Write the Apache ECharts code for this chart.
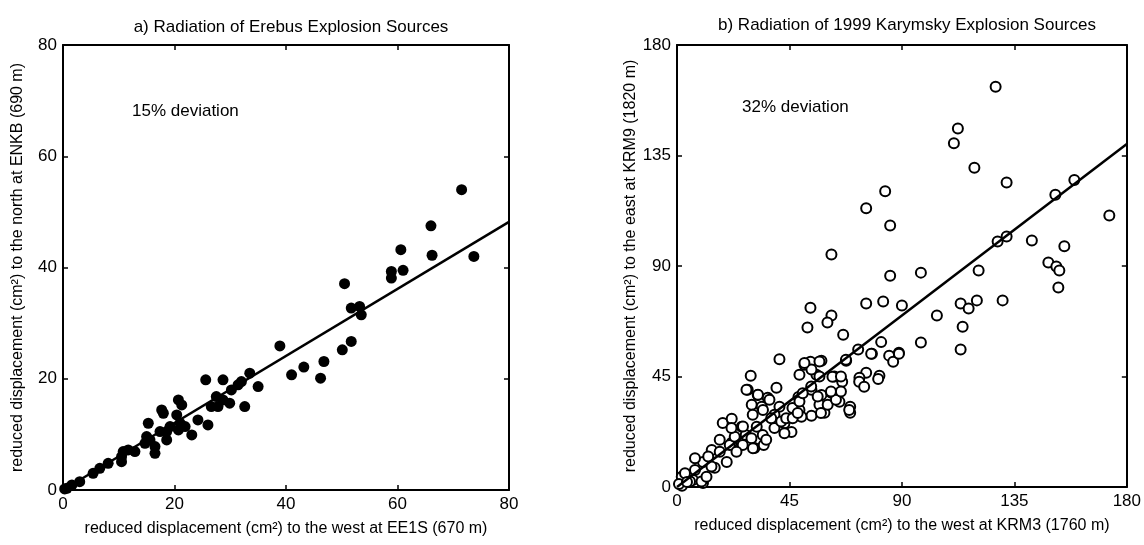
<!DOCTYPE html>
<html>
<head>
<meta charset="utf-8">
<script src="https://cdn.jsdelivr.net/npm/echarts@6/dist/echarts.min.js"></script>
<style>
  html, body { margin: 0; padding: 0; background: #fff; }
  #chart { width: 1144px; height: 545px; }
</style>
</head>
<body>
<div id="chart"></div>
<script>
// a) Erebus: reduced displacement west (EE1S) vs north (ENKB), cm^2
var erebusX = [0.3, 0.7, 1.6, 3, 5.4, 6.6, 8.1, 10.5, 10.8, 11.7, 12.9, 10.5, 15, 14.7, 16.5, 16.5, 15.6, 15.3,
    17.7, 18, 17.4, 18.6, 19.2, 18.6, 20.7, 21.3, 20.4, 21, 20.7, 21.9, 23.1, 24.2, 26, 25.6, 26.6, 27.5,
    28.7, 27.8, 29.9, 28.7, 30.2, 31.4, 32, 32.6, 33.5, 35, 38.9, 41, 43.2, 46.8, 46.2, 50.1, 51.7, 50.5,
    51.7, 53.2, 53.5, 58.9, 61, 58.9, 60.6, 66.2, 66, 71.5, 73.7];
var erebusY = [0.2, 0.3, 0.9, 1.5, 3, 3.9, 4.8, 6, 6.9, 7.2, 6.9, 5.1, 9.6, 8.4, 7.8, 6.6, 9, 12,
    14.4, 13.8, 10.5, 10.5, 11.4, 9, 16.2, 15.3, 13.5, 12, 10.8, 11.4, 9.9, 12.6, 11.7, 19.8, 15, 16.8,
    16.2, 15, 15.6, 19.8, 18, 18.9, 19.5, 15, 21, 18.6, 25.9, 20.7, 22.1, 23.1, 20.1, 25.2, 26.7, 37.1,
    32.7, 33, 31.5, 39.3, 39.5, 38.1, 43.2, 42.2, 47.5, 54, 42];
var erebusFitX = [0, 80];
var erebusFitY = [0, 48.2];

// b) 1999 Karymsky: reduced displacement west (KRM3) vs east (KRM9), cm^2
var karymskyX = [127.5, 112.4, 110.8, 119, 131.9, 151.4, 159, 173, 142, 155, 148.6, 151.8, 153, 152.6, 97.6, 120.7,
    128.3, 131.9, 90, 104, 113.5, 116.7, 120, 130.3, 114.3, 113.5, 97.6, 88.8, 83.3, 75.7, 85.3, 61.8, 85.3,
    53.4, 61.8, 60.2, 52.2, 66.5, 75.7, 82.5, 81.7, 72.5, 78, 84.9, 86.5, 67.7, 75.7, 81, 73,
    41, 53.4, 51, 57.8, 49, 55.8, 63, 29.5, 28.3, 39.8, 32.3, 36.3, 29.9, 33.9, 30.3, 25.9, 18.3, 21.9,
    27.5, 31.9, 34.3, 31, 34.7, 26.3, 21.9, 19.9, 13.9, 10.4, 15.1, 7.2, 10.4, 2.4, 6.4, 2,
    41, 39, 41.8, 43, 45.8, 49, 53.8, 62.2, 66.1, 48.6, 53.8, 57.8, 61.8, 65, 57, 59, 53.8, 49.8, 46.2,
    69.3, 69.3, 72.9, 74.9, 80.5, 77.7, 88.8, 1.9, 9.8, 5.2, 13.8, 17.1, 21.1, 23.1, 29.8, 30.4, 26.4,
    39, 41.7, 43, 37.7, 34.4, 37, 32.4, 27.8, 43.7, 46.3, 49, 48.3, 50.3, 57.6, 60.3, 63.6, 65.6, 61.6,
    56.3, 53.7, 57, 51, 57, 65.6, 67.6, 68.9, 35.7, 12.5, 7.2, 3.2, 11.8, 17.1, 21.8, 23.8, 0.8, 4];
var karymskyY = [163, 146, 140, 130, 124, 119, 125, 110.6, 100.4, 98, 91.4, 89.8, 88.2, 81.2, 87.3, 88.2,
    100, 102, 73.9, 69.8, 74.7, 72.7, 76, 76, 65.3, 56, 58.8, 54.7, 120.4, 113.5, 106.5, 94.7, 86,
    73, 69.8, 67, 65, 62, 74.7, 75.5, 59, 56, 54.3, 53.5, 51, 51.4, 46.5, 45.3, 44.5,
    52, 51, 49.8, 51.4, 45.7, 45.7, 45, 45.3, 39.6, 40.4, 37.5, 36.3, 33.5, 32.7, 29.4, 24.5, 26.1, 27.8,
    21.2, 24.5, 21.2, 15.9, 17.1, 17.1, 18, 10.2, 15.1, 10.2, 7.8, 6.9, 1.6, 4.1, 2.9, 0.5,
    32.7, 29.4, 24.5, 26, 22.4, 31.4, 47.8, 44.9, 42.9, 36.7, 39.6, 37.5, 38.4, 34.7, 33.5, 30.2, 29, 28.6, 32.2,
    32.7, 30.2, 42.9, 40.8, 44, 54.3, 54.3, 4.2, 2.2, 2.2, 8.3, 14.4, 17.1, 20.5, 19.9, 15.8, 24.6,
    24, 26.7, 21.9, 28, 31.4, 35.5, 37.6, 39.6, 28, 28, 34.8, 30.1, 38.2, 30.1, 33.5, 35.5, 38.9, 38.9,
    36.9, 40.9, 45, 50.5, 51.1, 45, 51.8, 31.4, 19.2, 12.4, 11.7, 5.6, 4.2, 19.2, 24, 14.4, 1.2, 2];
var karymskyFitX = [0, 180];
var karymskyFitY = [0, 139.7];

var erebusTicks = { min: 0, max: 80, interval: 20 };
var karymskyTicks = { min: 0, max: 180, interval: 45 };

function pairs(xs, ys) {
    return xs.map(function (x, i) { return [x, ys[i]]; });
}

var font = "'Liberation Sans', Arial, Helvetica, sans-serif";

function mainX(grid, t, name) {
    return {
        type: "value", gridIndex: grid, min: t.min, max: t.max, interval: t.interval,
        name: name, nameLocation: "middle", nameGap: 31,
        nameTextStyle: { fontFamily: font, fontSize: 16, color: "#000" },
        axisLine: { onZero: false, lineStyle: { color: "#000", width: 2 } },
        axisTick: { inside: true, length: 5, lineStyle: { color: "#000", width: 1.5 } },
        axisLabel: { fontFamily: font, fontSize: 17, color: "#000", margin: 6 },
        splitLine: { show: false }
    };
}
function mainY(grid, t, name) {
    return {
        type: "value", gridIndex: grid, min: t.min, max: t.max, interval: t.interval,
        name: name, nameLocation: "middle", nameGap: 37,
        nameTextStyle: { fontFamily: font, fontSize: 16, color: "#000" },
        axisLine: { onZero: false, lineStyle: { color: "#000", width: 2 } },
        axisTick: { inside: true, length: 5, lineStyle: { color: "#000", width: 1.5 } },
        axisLabel: { fontFamily: font, fontSize: 17, color: "#000", margin: 6 },
        splitLine: { show: false }
    };
}
function boxAxis(grid, t, pos) {
    return {
        type: "value", gridIndex: grid, position: pos, min: t.min, max: t.max, interval: t.interval,
        axisLine: { onZero: false, lineStyle: { color: "#000", width: 2 } },
        axisTick: { inside: true, length: 5, lineStyle: { color: "#000", width: 1.5 } },
        axisLabel: { show: false },
        splitLine: { show: false }
    };
}

var chart = echarts.init(document.getElementById("chart"));
chart.setOption({
    animation: false,
    backgroundColor: "#fff",
    title: [
        { text: "a) Radiation of Erebus Explosion Sources", left: 286, top: 14, textAlign: "center",
          textStyle: { fontFamily: font, fontSize: 17, fontWeight: "normal", color: "#000" } },
        { text: "b) Radiation of 1999 Karymsky Explosion Sources", left: 902, top: 12, textAlign: "center",
          textStyle: { fontFamily: font, fontSize: 17, fontWeight: "normal", color: "#000" } }
    ],
    grid: [
        { left: 63, top: 45, width: 446, height: 445 },
        { left: 677, top: 45, width: 451, height: 442 }
    ],
    xAxis: [
        mainX(0, erebusTicks, "reduced displacement (cm²) to the west at EE1S (670 m)"),
        mainX(1, karymskyTicks, "reduced displacement (cm²) to the west at KRM3 (1760 m)"),
        boxAxis(0, erebusTicks, "top"),
        boxAxis(1, karymskyTicks, "top")
    ],
    yAxis: [
        mainY(0, erebusTicks, "reduced displacement (cm²) to the north at ENKB (690 m)"),
        mainY(1, karymskyTicks, "reduced displacement (cm²) to the east at KRM9 (1820 m)"),
        boxAxis(0, erebusTicks, "right"),
        boxAxis(1, karymskyTicks, "right")
    ],
    graphic: [
        { type: "text", left: 132, top: 103, style: { text: "15% deviation", fontFamily: font, fontSize: 17, fill: "#000" } },
        { type: "text", left: 742, top: 99, style: { text: "32% deviation", fontFamily: font, fontSize: 17, fill: "#000" } }
    ],
    series: [
        { type: "line", xAxisIndex: 0, yAxisIndex: 0, data: pairs(erebusFitX, erebusFitY), symbol: "none",
          lineStyle: { color: "#000", width: 2.5 }, z: 1 },
        { type: "scatter", xAxisIndex: 0, yAxisIndex: 0, data: pairs(erebusX, erebusY), symbol: "circle",
          symbolSize: 11, itemStyle: { color: "#000", opacity: 1 }, z: 2 },
        { type: "line", xAxisIndex: 1, yAxisIndex: 1, data: pairs(karymskyFitX, karymskyFitY), symbol: "none",
          lineStyle: { color: "#000", width: 2.5 }, z: 3 },
        { type: "scatter", xAxisIndex: 1, yAxisIndex: 1, data: pairs(karymskyX, karymskyY), symbol: "circle",
          symbolSize: 10, itemStyle: { color: "#fff", borderColor: "#000", borderWidth: 2, opacity: 1 }, z: 2 }
    ]
});
window.addEventListener("resize", function () {
    chart.resize();
});
</script>
</body>
</html>
